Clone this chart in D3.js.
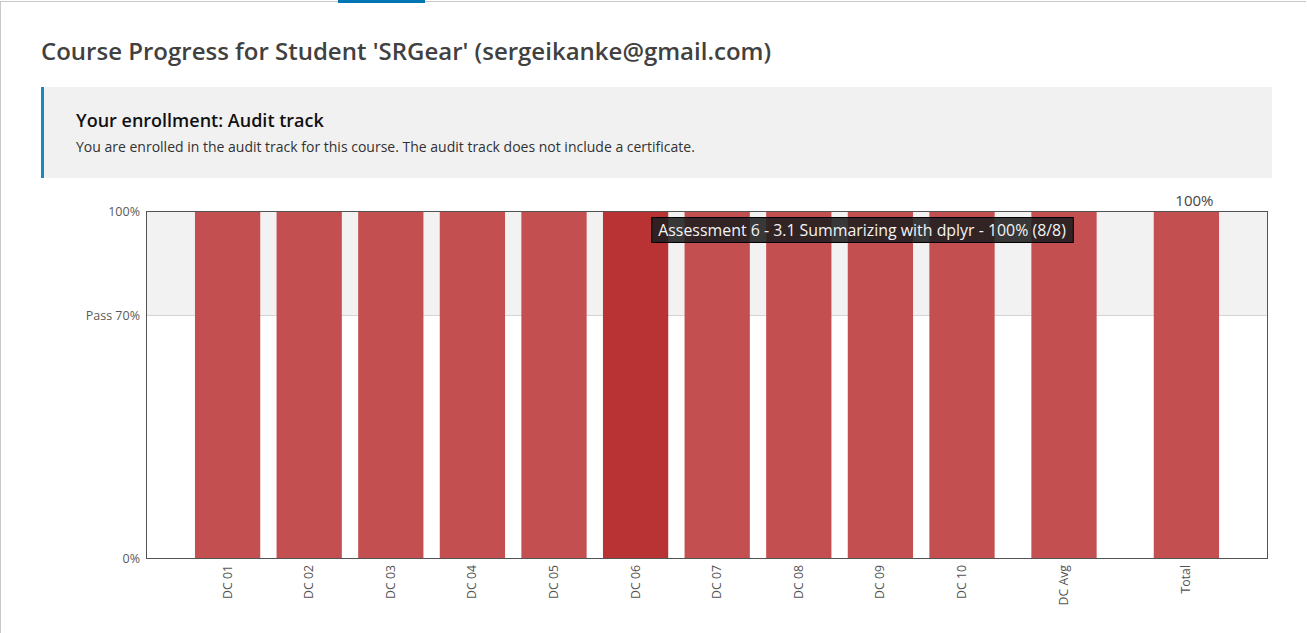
<!DOCTYPE html>
<html><head><meta charset="utf-8">
<script src="https://cdn.jsdelivr.net/npm/d3@7"></script>
<style>
html,body{margin:0;padding:0;background:#fff;overflow:hidden;}
body{width:1307px;height:633px;position:relative;font-family:"Open Sans",sans-serif;}
</style></head>
<body><svg id="c" width="1307" height="633"></svg>
<script>
const title = "Course Progress for Student 'SRGear' (sergeikanke@gmail.com)";
const bannerHead = "Your enrollment: Audit track";
const bannerText = "You are enrolled in the audit track for this course. The audit track does not include a certificate.";
const detailLabels = ["DC 01","DC 02","DC 03","DC 04","DC 05","DC 06","DC 07","DC 08","DC 09","DC 10"];
const detailValues = [1,1,1,1,1,1,1,1,1,1];
const avgLabel = "DC Avg";
const avgValue = 1;
const totalLabel = "Total";
const totalValue = 1;
const passCutoff = 0.7;
const yTickValues = [0, 0.7, 1];
const yTickLabels = ["0%", "Pass 70%", "100%"];
const highlightIndex = 5;
const tooltipText = "Assessment 6 - 3.1 Summarizing with dplyr - 100% (8/8)";
const totalText = "100%";

const svg = d3.select("#c");
// page chrome
svg.append("line").attr("x1",0).attr("x2",1306).attr("y1",1.5).attr("y2",1.5).attr("stroke","#c8c8c8").attr("stroke-width",1);
svg.append("line").attr("x1",0.5).attr("x2",0.5).attr("y1",1).attr("y2",633).attr("stroke","#c8c8c8").attr("stroke-width",1);
svg.append("rect").attr("x",338).attr("y",0).attr("width",87).attr("height",3).attr("fill","#0075b4");

svg.append("text").attr("x",41).attr("y",60).text(title)
  .attr("font-size",24).attr("font-weight",600).attr("fill","#414141");

// banner
svg.append("rect").attr("x",41).attr("y",87).attr("width",1231).attr("height",91).attr("fill","#f1f1f1");
svg.append("rect").attr("x",41).attr("y",87).attr("width",3).attr("height",91).attr("fill","#1a88c4");
svg.append("text").attr("x",76).attr("y",127).text(bannerHead)
  .attr("font-size",18).attr("font-weight",600).attr("fill","#111");
svg.append("text").attr("x",76).attr("y",152).text(bannerText)
  .attr("font-size",14).attr("fill","#313131");

// chart
const L=146, R=1268, T=211, B=558;
const n = detailLabels.length;
const items = detailLabels.map((l,i)=>({label:l,value:detailValues[i],pos:i+1,hl:i===highlightIndex}));
items.push({label:avgLabel,value:avgValue,pos:n+1.25,hl:false});
items.push({label:totalLabel,value:totalValue,pos:n+2.75,hl:false,total:true});
const x = d3.scaleLinear().domain([0,n+3.75]).range([L,R]);
const y = d3.scaleLinear().domain([0,1]).range([B,T]);
const bw = x(0.8)-x(0);

const g = svg.append("g");
g.append("rect").attr("x",L).attr("y",y(1)).attr("width",R-L).attr("height",y(passCutoff)-y(1)).attr("fill","#f2f2f2");
g.append("line").attr("x1",L).attr("x2",R).attr("y1",Math.round(y(passCutoff))+0.5).attr("y2",Math.round(y(passCutoff))+0.5).attr("stroke","#d4d4d4");

g.selectAll("rect.bar").data(items).enter().append("rect").attr("class","bar")
  .attr("x",d=>x(d.pos)-bw/2).attr("width",bw)
  .attr("y",d=>y(d.value)).attr("height",d=>y(0)-y(d.value))
  .attr("fill",d=>d.hl?"#b93234":"#c44f50");

// frame
g.append("rect").attr("x",L+0.5).attr("y",T+0.5).attr("width",R-L-1).attr("height",B-T).attr("fill","none").attr("stroke","#545454").attr("stroke-width",1);

// y ticks
const yAxis = d3.axisLeft(y).tickValues(yTickValues).tickFormat((d,i)=>yTickLabels[i]).tickSize(0).tickPadding(6);
const ya = g.append("g").attr("transform",`translate(${L},0)`).call(yAxis);
ya.select(".domain").remove();
ya.selectAll("text").attr("font-family","'Open Sans',sans-serif").attr("font-size",12.5).attr("fill","#5a5a5a");

// x labels
g.selectAll("text.xl").data(items).enter().append("text").attr("class","xl")
  .attr("transform",d=>`translate(${x(d.pos)+4},${B+7}) rotate(-90)`)
  .attr("text-anchor","end").attr("font-size",12.3).attr("fill","#545454").text(d=>d.label);

// total label
const tot = items[items.length-1];
g.append("text").attr("x",x(tot.pos)+8).attr("y",y(tot.value)-5).attr("text-anchor","middle")
  .attr("font-size",15).attr("fill","#444").text(totalText);

// tooltip
const hl = items[highlightIndex];
const tg = g.append("g").attr("transform",`translate(${x(hl.pos)+bw/2-17},${T+6})`);
const tt = tg.append("text").attr("x",7).attr("y",19).attr("font-size",15.9).attr("fill","#f4f4f4").text(tooltipText);
const tw = tt.node().getComputedTextLength();
tg.insert("rect","text").attr("x",0.5).attr("y",0.5).attr("width",tw+14).attr("height",25)
  .attr("fill","rgba(30,30,30,0.88)").attr("stroke","#000").attr("stroke-width",1);
</script></body></html>
